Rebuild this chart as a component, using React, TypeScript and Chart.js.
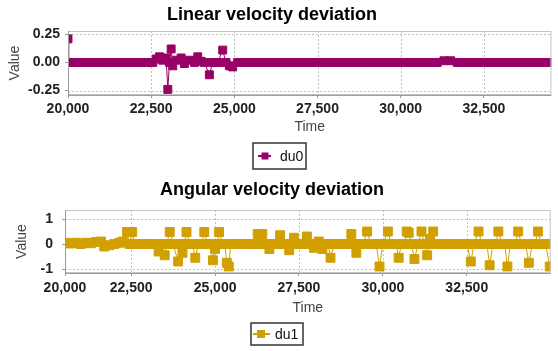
import React, { useEffect, useRef } from "react";
import { Chart, registerables } from "chart.js";

Chart.register(...registerables);

// ---------- Data: Linear velocity deviation ----------
const topTime = [
  20000, 20020, 20200, 20400, 20600, 20800, 21000, 21200, 21400, 21600,
  21800, 22000, 22200, 22400, 22550, 22650, 22750, 22850, 22950, 23000,
  23050, 23100, 23150, 23250, 23400, 23500, 23650, 23800, 23900, 24000,
  24100, 24250, 24350, 24500, 24650, 24750, 24850, 24950, 25100, 25300,
  25500, 25700, 25900, 26100, 26300, 26500, 26700, 26900, 27100, 27300,
  27500, 27700, 27900, 28100, 28300, 28500, 28700, 28900, 29100, 29300,
  29500, 29700, 29900, 30100, 30300, 30500, 30700, 30900, 31100, 31300,
  31500, 31700, 31900, 32100, 32300, 32500, 32700, 32900, 33100, 33300,
  33500, 33700, 33900, 34100, 34300, 34500,
];
const du0 = [
  0.21, 0, 0, 0, 0, 0, 0, 0, 0, 0,
  0, 0, 0, 0, 0, 0.03, 0.05, 0.02, 0.04, -0.24,
  0, 0.12, -0.03, 0.02, 0.04, -0.01, 0.02, 0, 0.05, 0.01,
  0, -0.11, 0, 0, 0.11, 0, -0.03, -0.04, 0, 0,
  0, 0, 0, 0, 0, 0, 0, 0, 0, 0,
  0, 0, 0, 0, 0, 0, 0, 0, 0, 0,
  0, 0, 0, 0, 0, 0, 0, 0, 0, 0.015,
  0.015, 0, 0, 0, 0, 0, 0, 0, 0, 0,
  0, 0, 0, 0, 0, 0,
];
const topXTicks = [20000, 22500, 25000, 27500, 30000, 32500];
const topXLabels = ["20,000", "22,500", "25,000", "27,500", "30,000", "32,500"];
const topYTicks = [-0.25, 0, 0.25];
const topYLabels = ["-0.25", "0.00", "0.25"];

// ---------- Data: Angular velocity deviation ----------
const bottomTime = [
  20550, 20700, 20850, 21000, 21150, 21300, 21450, 21600, 21700, 21850,
  22000, 22150, 22250, 22380, 22450, 22530, 22600, 22800, 23000, 23200,
  23320, 23420, 23500, 23560, 23650, 23750, 23900, 23960, 24030, 24090,
  24150, 24250, 24330, 24410, 24500, 24600, 24680, 24780, 24870, 24940,
  25000, 25060, 25120, 25230, 25290, 25350, 25410, 25470, 25650, 25850,
  26050, 26200, 26270, 26340, 26410, 26500, 26620, 26750, 26850, 26940,
  27050, 27210, 27280, 27350, 27450, 27600, 27680, 27735, 27850, 27950,
  28090, 28200, 28300, 28370, 28440, 28550, 28700, 28850, 28980, 29060,
  29130, 29210, 29300, 29420, 29530, 29650, 29800, 29900, 30000, 30150,
  30250, 30400, 30470, 30550, 30640, 30710, 30770, 30850, 30940, 31050,
  31150, 31240, 31320, 31400, 31450, 31500, 31580, 31750, 31950, 32150,
  32350, 32500, 32620, 32720, 32850, 32950, 33100, 33180, 33280, 33360,
  33440, 33550, 33630, 33710, 33800, 33950, 34030, 34130, 34250, 34350,
  34450, 34540, 34620, 34720, 34850, 34970,
];
const du1 = [
  0.05, 0.02, 0.05, 0.0, 0.05, 0.03, 0.08, 0.1, -0.1, -0.05,
  0, 0.05, 0.1, 0.48, 0, 0.48, 0, 0, 0, 0,
  -0.3, 0, -0.45, 0, 0.48, 0, -0.7, 0, -0.35, 0,
  0.48, 0, 0, -0.55, 0, 0, 0.48, 0, 0, -0.65,
  -0.2, 0, 0.48, 0, 0, -0.75, -0.9, 0, 0, 0,
  0, 0, 0.4, 0, 0.4, 0, -0.2, 0, 0, 0.35,
  0, -0.25, 0, 0.25, 0, 0, 0, 0.3, 0, -0.15,
  0.1, -0.2, 0, 0, -0.55, 0, 0, 0, 0, 0.4,
  0, -0.35, 0, 0, 0.5, 0, 0, -0.9, 0, 0.5,
  0, 0, -0.55, 0, 0, 0.5, 0.45, 0, -0.6, 0,
  0.5, 0, -0.45, 0.2, 0, 0.5, 0, 0, 0, 0,
  0, 0, -0.7, 0, 0.5, 0, 0, -0.85, 0, 0,
  0.5, 0, 0, -0.9, 0, 0, 0.5, 0, 0, -0.75,
  0, 0, 0.5, 0, 0, -0.9,
];
const bottomXTicks = [20530, 22500, 25000, 27500, 30000, 32500];
const bottomXLabels = ["20,000", "22,500", "25,000", "27,500", "30,000", "32,500"];
const bottomYTicks = [-1, 0, 1];
const bottomYLabels = ["-1", "0", "1"];

const FONT = "'Liberation Sans', Arial, sans-serif";

type Spec = {
  title: string;
  titleX: number;
  titleY: number;
  label: string;
  color: string;
  xs: number[];
  ys: number[];
  xMin: number;
  xMax: number;
  yMin: number;
  yMax: number;
  xTicks: number[];
  xLabels: string[];
  yTicks: number[];
  yLabels: string[];
  padTop: number;
  padRight: number;
  padBottom: number;
  yWidth: number;
  xHeight: number;
  yTickPad: number;
  xTickPad: number;
  yTitlePad: number;
  xTitlePad: number;
  pointRadius: number;
  legend: { x: number; y: number; w: number; h: number; lx1: number; lx2: number; sq: number; sqx: number; tx: number };
};

function makeChart(canvas: HTMLCanvasElement, s: Spec) {
  const points = s.xs.map((x, i) => ({ x, y: s.ys[i] }));

  const decor = {
    id: "decor",
    beforeDatasetsDraw(chart: any) {
      // dashed grid lines inside the plot
      const { ctx, chartArea: a, scales } = chart;
      ctx.save();
      ctx.strokeStyle = "#c0c0c0";
      ctx.lineWidth = 1;
      ctx.setLineDash([2, 2]);
      ctx.beginPath();
      for (const v of s.xTicks) {
        const px = Math.round(scales.x.getPixelForValue(v)) + 0.5;
        if (px <= a.left + 1 || px >= a.right - 1) continue;
        ctx.moveTo(px, a.top);
        ctx.lineTo(px, a.bottom);
      }
      for (const v of s.yTicks) {
        const py = Math.round(scales.y.getPixelForValue(v)) + 0.5;
        ctx.moveTo(a.left, py);
        ctx.lineTo(a.right, py);
      }
      ctx.stroke();
      ctx.restore();
    },
    afterDatasetsDraw(chart: any) {
      const { ctx, chartArea: a } = chart;
      ctx.save();
      ctx.strokeStyle = "#c4c4c4";
      ctx.lineWidth = 1;
      ctx.strokeRect(a.left + 0.5, a.top + 0.5, a.right - a.left - 1, a.bottom - a.top - 1);
      ctx.strokeStyle = "#9a9a9a";
      ctx.beginPath();
      ctx.moveTo(a.left + 0.5, a.top);
      ctx.lineTo(a.left + 0.5, a.bottom + 0.5);
      ctx.lineTo(a.right, a.bottom + 0.5);
      ctx.stroke();
      ctx.restore();
    },
    afterDraw(chart: any) {
      const { ctx } = chart;
      ctx.save();
      ctx.fillStyle = "#000";
      ctx.font = `bold 18px ${FONT}`;
      ctx.textAlign = "center";
      ctx.textBaseline = "middle";
      ctx.fillText(s.title, s.titleX, s.titleY);
      const L = s.legend;
      ctx.strokeStyle = "#333";
      ctx.lineWidth = 1.5;
      ctx.strokeRect(L.x, L.y, L.w, L.h);
      const cy = L.y + L.h / 2;
      ctx.strokeStyle = s.color;
      ctx.lineWidth = 2;
      ctx.beginPath();
      ctx.moveTo(L.lx1, cy);
      ctx.lineTo(L.lx2, cy);
      ctx.stroke();
      ctx.fillStyle = s.color;
      ctx.fillRect(L.sqx - L.sq / 2, cy - L.sq / 2, L.sq, L.sq);
      ctx.fillStyle = "#111";
      ctx.font = `14px ${FONT}`;
      ctx.textAlign = "left";
      ctx.fillText(s.label, L.tx, cy + 1);
      ctx.restore();
    },
  };

  return new Chart(canvas, {
    type: "scatter",
    data: {
      datasets: [
        {
          label: s.label,
          data: points,
          showLine: true,
          borderColor: s.color,
          backgroundColor: s.color,
          borderWidth: 1,
          pointStyle: "rect",
          pointRadius: s.pointRadius,
          pointHoverRadius: s.pointRadius,
          pointBorderWidth: 1,
          pointBackgroundColor: s.color,
          pointBorderColor: s.color,
          clip: 0,
        } as any,
      ],
    },
    plugins: [decor],
    options: {
      animation: false,
      responsive: false,
      maintainAspectRatio: false,
      events: [],
      layout: { padding: { top: s.padTop, left: 0, right: s.padRight, bottom: s.padBottom } },
      plugins: { legend: { display: false }, title: { display: false }, tooltip: { enabled: false } },
      scales: {
        x: {
          type: "linear",
          min: s.xMin,
          max: s.xMax,
          afterFit: (sc: any) => {
            sc.height = s.xHeight;
          },
          afterBuildTicks: (sc: any) => {
            sc.ticks = s.xTicks.map((v) => ({ value: v }));
          },
          ticks: {
            autoSkip: false,
            maxRotation: 0,
            padding: s.xTickPad,
            color: "#222",
            font: { family: FONT, size: 14, weight: "bold" },
            callback: (_v: any, i: number) => s.xLabels[i],
          },
          grid: {
            drawOnChartArea: false,
            tickLength: 3,
            tickColor: "#999",
          } as any,
          border: { display: false } as any,
          title: {
            display: true,
            text: "Time",
            color: "#444",
            font: { family: FONT, size: 14 },
            padding: { top: 0, bottom: s.xTitlePad },
          },
        },
        y: {
          type: "linear",
          min: s.yMin,
          max: s.yMax,
          afterFit: (sc: any) => {
            sc.width = s.yWidth;
          },
          afterBuildTicks: (sc: any) => {
            sc.ticks = s.yTicks.map((v) => ({ value: v }));
          },
          ticks: {
            autoSkip: false,
            padding: s.yTickPad,
            color: "#222",
            font: { family: FONT, size: 14, weight: "bold" },
            callback: (_v: any, i: number) => s.yLabels[i],
          },
          grid: {
            drawOnChartArea: false,
            tickLength: 3,
            tickColor: "#999",
          } as any,
          border: { display: false } as any,
          title: {
            display: true,
            text: "Value",
            color: "#444",
            font: { family: FONT, size: 14 },
            padding: { top: s.yTitlePad, bottom: 0 },
          },
        },
      },
    } as any,
  });
}

const topSpec: Spec = {
  title: "Linear velocity deviation",
  titleX: 272,
  titleY: 15,
  label: "du0",
  color: "#990066",
  xs: topTime,
  ys: du0,
  xMin: 20000,
  xMax: 34530,
  yMin: -0.29,
  yMax: 0.28,
  xTicks: topXTicks,
  xLabels: topXLabels,
  yTicks: topYTicks,
  yLabels: topYLabels,
  padTop: 31,
  padRight: 1,
  padBottom: 35,
  yWidth: 68,
  xHeight: 45,
  yTickPad: 5,
  xTickPad: 3,
  yTitlePad: 6.6,
  xTitlePad: 4.6,
  pointRadius: 5.6,
  legend: { x: 253, y: 143, w: 53, h: 26, lx1: 258, lx2: 271, sq: 7, sqx: 265, tx: 280 },
};

const bottomSpec: Spec = {
  title: "Angular velocity deviation",
  titleX: 272,
  titleY: 15,
  label: "du1",
  color: "#D1A000",
  xs: bottomTime,
  ys: du1,
  xMin: 20530,
  xMax: 35000,
  yMin: -1.16,
  yMax: 1.36,
  xTicks: bottomXTicks,
  xLabels: bottomXLabels,
  yTicks: bottomYTicks,
  yLabels: bottomYLabels,
  padTop: 35,
  padRight: 2,
  padBottom: 33,
  yWidth: 65,
  xHeight: 45,
  yTickPad: 9,
  xTickPad: 4,
  yTitlePad: 13.6,
  xTitlePad: 1.6,
  pointRadius: 6.3,
  legend: { x: 251, y: 148, w: 52, h: 22, lx1: 253, lx2: 270, sq: 8, sqx: 261, tx: 275 },
};

function ChartCanvas({ spec, top, height }: { spec: Spec; top: number; height: number }) {
  const ref = useRef<HTMLCanvasElement | null>(null);
  useEffect(() => {
    if (!ref.current) return;
    const chart = makeChart(ref.current, spec);
    return () => chart.destroy();
  }, [spec]);
  return (
    <div style={{ position: "absolute", left: 0, top, width: 558, height }}>
      <canvas ref={ref} width={558} height={height} style={{ width: 558, height, display: "block" }} />
    </div>
  );
}

export default function App() {
  return (
    <div style={{ position: "fixed", left: 0, top: 0, width: 558, height: 351, background: "#fff", overflow: "hidden" }}>
      <ChartCanvas spec={topSpec} top={0} height={175} />
      <ChartCanvas spec={bottomSpec} top={175} height={176} />
    </div>
  );
}
